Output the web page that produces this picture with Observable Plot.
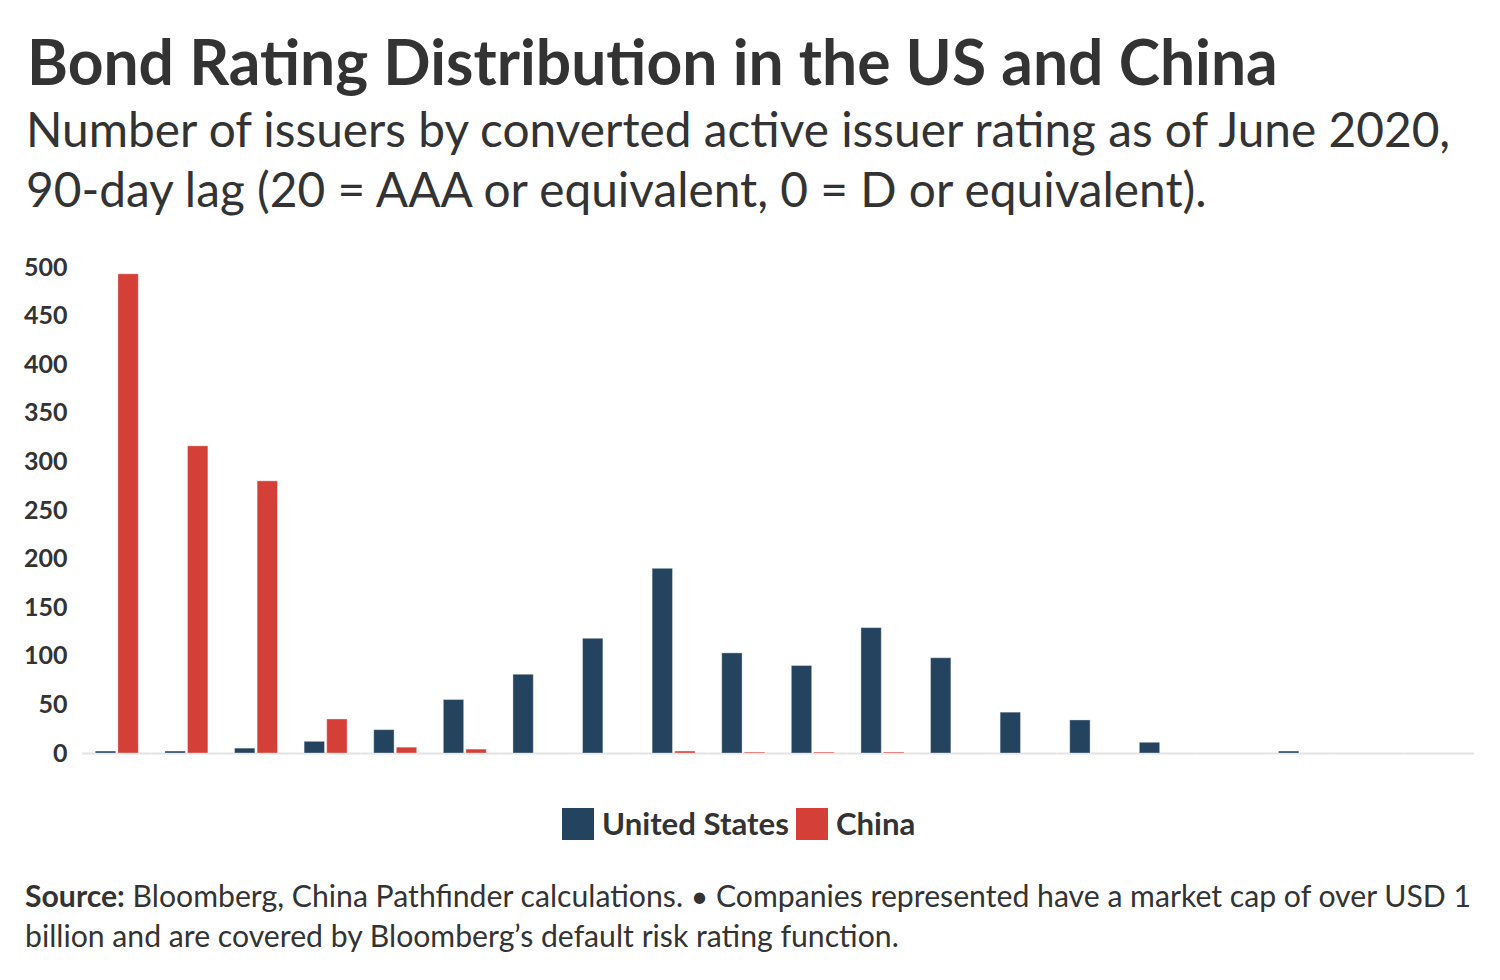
<!DOCTYPE html>
<html><head><meta charset="utf-8">
<script src="https://cdn.jsdelivr.net/npm/d3@7"></script>
<script src="https://cdn.jsdelivr.net/npm/@observablehq/plot@0.6"></script>
<style>
html,body{margin:0;padding:0;background:#fff;}
#root{position:relative;width:1500px;height:980px;font-family:Lato, sans-serif;color:#333;overflow:hidden;}
.t{position:absolute;white-space:nowrap;color:#333;font-family:Lato, sans-serif;}
.sw{position:absolute;width:32px;height:32px;}
</style></head><body><div id="root"></div>
<script>
// ---- data ----
const ratings = [20,19,18,17,16,15,14,13,12,11,10,9,8,7,6,5,4,3,2,1];
const seriesNames = ["United States", "China"];
const usValues    = [2, 2, 5, 12, 24, 55, 81, 118, 190, 103, 90, 129, 98, 42, 34, 11, 0, 2, 0, 0];
const chinaValues = [493, 316, 280, 35, 6, 4, 0, 0, 2, 1, 1, 1, 0, 0, 0, 0, 0, 0, 0, 0];
const seriesColors = ["#24435f", "#d43f38"];
const yTicks = [0, 50, 100, 150, 200, 250, 300, 350, 400, 450, 500];
const titleText = "Bond Rating Distribution in the US and China";
const subtitleLines = [
  "Number of issuers by converted active issuer rating as of June 2020,",
  "90-day lag (20 = AAA or equivalent, 0 = D or equivalent)."
];
const sourceLabel = "Source:";
const captionLines = [
  " Bloomberg, China Pathfinder calculations. \u2022 Companies represented have a market cap of over USD 1",
  "billion and are covered by Bloomberg\u2019s default risk rating function."
];

const root = document.getElementById("root");
const ctx = document.createElement("canvas").getContext("2d");
function measure(text, weight, size) {
  ctx.font = `${weight} ${size}px Lato`;
  return ctx.measureText(text);
}
function fitSize(parts, targetWidth) {
  const w = parts.reduce((s, p) => s + measure(p.text, p.weight, 100).width, 0);
  return 100 * targetWidth / w;
}
function addText(parts, left, baseline, size) {
  const m = measure("Hg", 400, size);
  const asc = m.fontBoundingBoxAscent, desc = m.fontBoundingBoxDescent;
  const div = document.createElement("div");
  div.className = "t";
  div.style.left = left + "px";
  div.style.top = (baseline - asc) + "px";
  div.style.fontSize = size + "px";
  div.style.lineHeight = (asc + desc) + "px";
  parts.forEach(p => {
    const s = document.createElement("span");
    s.textContent = p.text;
    s.style.fontWeight = p.weight;
    div.appendChild(s);
  });
  root.appendChild(div);
  return parts.reduce((s, p) => s + measure(p.text, p.weight, size).width, 0);
}

// title & subtitle
const tSize = fitSize([{text: titleText, weight: 700}], 1251);
addText([{text: titleText, weight: 700}], 27, 85, tSize);
const sSize = fitSize([{text: subtitleLines[0], weight: 400}], 1431);
addText([{text: subtitleLines[0], weight: 400}], 26, 147, sSize);
addText([{text: subtitleLines[1], weight: 400}], 26, 207, sSize);

// chart
const data = ratings.flatMap((r, i) => seriesNames.map((s, j) => ({
  rating: r, series: s, value: [usValues, chinaValues][j][i]
})));
const chart = Plot.plot({
  width: 1500, height: 540,
  marginTop: 27, marginBottom: 27, marginLeft: 82, marginRight: 26,
  style: {fontFamily: "Lato, sans-serif", background: "#fff", color: "#333", overflow: "visible"},
  fx: {domain: ratings, padding: 0, round: false, axis: null},
  x: {domain: seriesNames, paddingInner: 0.1, paddingOuter: 0.59, round: false, axis: null},
  y: {domain: [0, 500]},
  color: {domain: seriesNames, range: seriesColors},
  marks: [
    Plot.ruleY([0], {stroke: "#e4e4e4", strokeWidth: 2}),
    Plot.barY(data, {
      fx: "rating", x: "series", y: "value", fill: "series",
      stroke: "white", strokeOpacity: d => d.value > 0 ? 0.35 : 0, strokeWidth: 1
    }),
    Plot.axisY({ticks: yTicks, tickSize: 0, tickPadding: 15, fontSize: 25, fontWeight: "bold", color: "#333", label: null})
  ]
});
chart.style.position = "absolute";
chart.style.left = "0px";
chart.style.top = "240px";
root.appendChild(chart);

// legend
const lSize = fitSize([{text: seriesNames[0], weight: 700}], 187);
let lx = 562;
seriesNames.forEach((name, i) => {
  const sw = document.createElement("div");
  sw.className = "sw";
  sw.style.left = lx + "px";
  sw.style.top = "808px";
  sw.style.background = seriesColors[i];
  root.appendChild(sw);
  const w = addText([{text: name, weight: 700}], lx + 40, 835, lSize);
  lx = lx + 40 + w + 7;
});

// caption
const cSize = fitSize([{text: sourceLabel, weight: 700}, {text: captionLines[0], weight: 400}], 1448);
addText([{text: sourceLabel, weight: 700}, {text: captionLines[0], weight: 400}], 25, 907, cSize);
addText([{text: captionLines[1], weight: 400}], 25, 947, cSize);
</script>
</body></html>
